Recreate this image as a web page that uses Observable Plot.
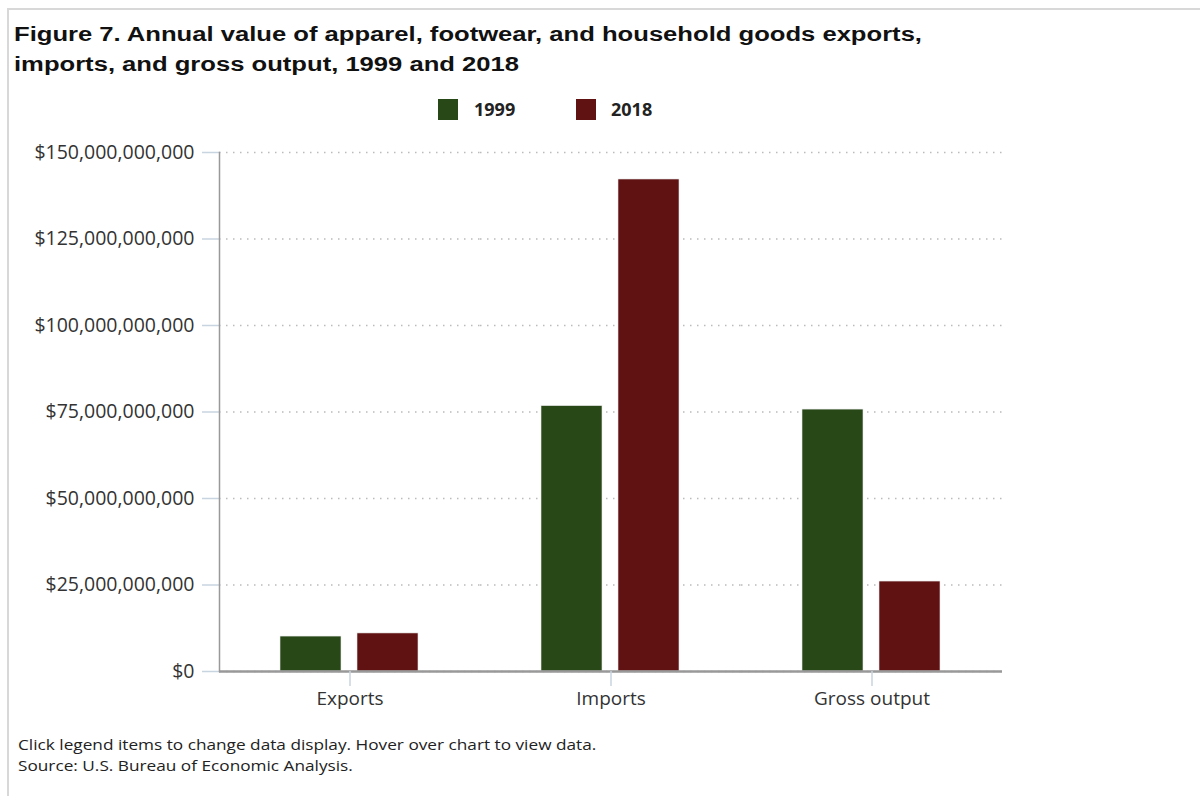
<!DOCTYPE html>
<html>
<head>
<meta charset="utf-8">
<script src="https://cdn.jsdelivr.net/npm/d3@7"></script>
<script src="https://cdn.jsdelivr.net/npm/@observablehq/plot@0.6"></script>
<style>
  html, body { margin: 0; padding: 0; background: #fff; }
  body { width: 1200px; height: 796px; position: relative; overflow: hidden; }
  #frame { position: absolute; left: 7px; top: 8px; width: 1200px; height: 800px;
           border-top: 2px solid #d8d8d8; border-left: 2px solid #d8d8d8; }
  #title { position: absolute; left: 14px; top: 19px; font-family: "Liberation Sans", Arial, sans-serif;
           font-weight: bold; font-size: 20px; line-height: 30px; color: #111;
           transform-origin: 0 0; transform: scaleX(1.28); white-space: nowrap; }
  #legend { position: absolute; top: 99px; left: 0; font-family: "Open Sans", sans-serif;
            font-weight: bold; font-size: 18px; color: #222; z-index: 2; }
  .item { position: absolute; white-space: nowrap; }
  .sw { position: absolute; width: 20px; height: 21px; }
  #chart { position: absolute; left: 0; top: 128px; z-index: 1; }
  #chart svg { background: transparent; }
  #foot { position: absolute; left: 18px; top: 734px; font-family: "Open Sans", sans-serif;
          font-size: 14px; line-height: 21px; color: #222; white-space: nowrap;
          transform-origin: 0 0; transform: scaleX(1.23); }
</style>
</head>
<body>
<div id="frame"></div>
<div id="chart"></div>
<div id="title">Figure 7. Annual value of apparel, footwear, and household goods exports,<br>imports, and gross output, 1999 and 2018</div>
<div id="legend"></div>
<div id="foot">Click legend items to change data display. Hover over chart to view data.<br>Source: U.S. Bureau of Economic Analysis.</div>
<script>
const categories = ["Exports", "Imports", "Gross output"];
const years = ["1999", "2018"];
const values1999 = [10.1e9, 76.7e9, 75.7e9];
const values2018 = [11.0e9, 142.2e9, 26.0e9];
const colors = ["#284818", "#601111"];
const yTicks = [0, 25e9, 50e9, 75e9, 100e9, 125e9, 150e9];

const data = [];
categories.forEach((c, i) => {
  data.push({category: c, year: years[0], value: values1999[i]});
  data.push({category: c, year: years[1], value: values2018[i]});
});

// legend
const legend = document.getElementById("legend");
const legendPos = [[438, 474], [576, 611]];
years.forEach((yr, i) => {
  const sw = document.createElement("div");
  sw.className = "sw"; sw.style.left = legendPos[i][0] + "px"; sw.style.top = "0px";
  sw.style.background = colors[i];
  legend.appendChild(sw);
  const t = document.createElement("div");
  t.className = "item"; t.style.left = legendPos[i][1] + "px"; t.style.top = "-2px";
  t.textContent = yr;
  legend.appendChild(t);
});

const fmt = d => "$" + d3.format(",")(d);

const chart = Plot.plot({
  width: 1200,
  height: 600,
  marginLeft: 218,
  marginRight: 198,
  marginTop: 24,
  marginBottom: 57,
  style: {fontFamily: "'Open Sans', sans-serif", fontSize: "16.5px", color: "#333", background: "transparent"},
  fx: {domain: categories, padding: 0, label: null},
  x: {domain: years, paddingInner: 0.205, paddingOuter: 0.776, axis: null},
  y: {domain: [0, 150e9], label: null},
  color: {domain: years, range: colors},
  marks: [
    Plot.gridY(yTicks, {stroke: "#bbb", strokeOpacity: 1, strokeDasharray: "1.5,5.5", strokeWidth: 1.5}),
    Plot.barY(data, {fx: "category", x: "year", y: "value", fill: "year", stroke: "#e8e8e8", strokeWidth: 0.6}),
    Plot.ruleY([0], {stroke: "#999", strokeWidth: 2.5}),
    Plot.axisY(yTicks, {tickFormat: fmt, tickSize: 17, tickPadding: 8, stroke: "#c8d4e0", strokeWidth: 1.5, fontSize: "19.5px", fill: "#333", label: null}),
    Plot.frame({anchor: "left", facetAnchor: "left", stroke: "#999", strokeWidth: 1.5}),
    Plot.axisFx({anchor: "bottom", tickSize: 15, tickPadding: 5, stroke: "#c8d4e0", strokeWidth: 1.5, fontSize: "19px", fill: "#333", label: null})
  ]
});
document.getElementById("chart").appendChild(chart);
</script>
</body>
</html>
